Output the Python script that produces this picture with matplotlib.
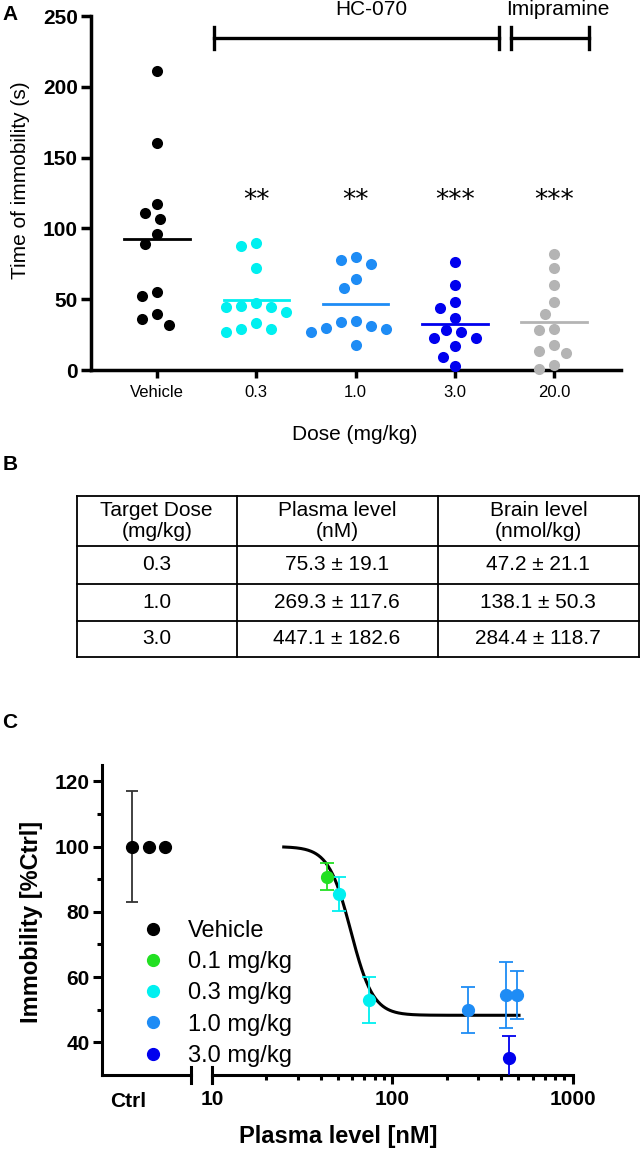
import numpy as np
import matplotlib.pyplot as plt
from matplotlib.lines import Line2D
from matplotlib.ticker import NullFormatter, LogLocator

plt.rcParams['font.family'] = ['Liberation Sans', 'DejaVu Sans']

W, H = 641, 1155

# ---- panel A: forced swim immobility
groups = ['Vehicle', '0.3', '1.0', '3.0', '20.0']
vehicle = [211.5, 160.5, 117, 111, 106.5, 96, 89, 55, 52.5, 39.5, 36, 32]
hc_03 = [90, 87.5, 72, 47, 45.5, 44.5, 44.5, 41, 33.5, 29, 29, 26.5]
hc_10 = [80, 78, 75, 64, 58, 34.5, 34, 31, 30, 29, 27, 18]
hc_30 = [76, 60, 48, 44, 36.5, 28, 27, 22.5, 22.5, 17, 9.5, 2.5]
imip_20 = [82, 72, 60, 48, 39.5, 29, 28, 17.5, 13.5, 12, 3.5, 1]
stars = ['', '**', '**', '***', '***']
colors_a = ['#000000', '#00F0F0', '#1E8CF5', '#0000EE', '#B4B4B4']

# ---- panel B: exposure table
table_header = ['Target Dose\n(mg/kg)', 'Plasma level\n(nM)', 'Brain level\n(nmol/kg)']
table_dose = ['0.3', '1.0', '3.0']
table_plasma = ['75.3 ± 19.1', '269.3 ± 117.6', '447.1 ± 182.6']
table_brain = ['47.2 ± 21.1', '138.1 ± 50.3', '284.4 ± 118.7']

# ---- panel C: immobility vs plasma level
ctrl_x = [1, 2, 3]
ctrl_y = [100, 100, 100]
ctrl_sem = 17
c_labels = ['0.1 mg/kg', '0.3 mg/kg', '1.0 mg/kg', '3.0 mg/kg']
c_plasma = [[43.5], [50.8, 74.3], [264, 430, 493], [444]]
c_immob = [[90.8], [85.5, 53.0], [50.0, 54.5, 54.5], [35.3]]
c_sem = [[4.2], [5.3, 7.0], [7.0, 10.0, 7.4], [6.6]]
c_colors = ['#22E022', '#00F0F0', '#1E8CF5', '#0000EE']
fit_top, fit_bottom, fit_logec50, fit_hill = 100, 48.3, 1.77, 7.0
fit_range = [25, 505]


def frac(x0, y0, x1, y1):
    return [x0 / W, 1 - y1 / H, (x1 - x0) / W, (y1 - y0) / H]


def swarm(ax, vals, xc, diam=14, step=3):
    # simple beeswarm in pixel space
    p0 = ax.transData.transform((0, 0))
    p1 = ax.transData.transform((1, 1))
    sx, sy = p1[0] - p0[0], p1[1] - p0[1]
    cands = [0] + [s * i * step for i in range(1, 40) for s in (-1, 1)]
    placed = []
    xs = []
    for v in vals:
        y = v * sy
        for dx in cands:
            if all((dx - px) ** 2 + (y - py) ** 2 >= diam ** 2 for px, py in placed):
                break
        placed.append((dx, y))
        xs.append(xc + dx / sx)
    return xs


fig = plt.figure(figsize=(W / 100, H / 100), dpi=100)

# ================= A
axA = fig.add_axes(frac(91, 16, 621, 370))
axA.set_xlim(-0.665, 4.675)
axA.set_ylim(0, 250)
for s in ['top', 'right']:
    axA.spines[s].set_visible(False)
for s in ['left', 'bottom']:
    axA.spines[s].set_linewidth(2.5)

data_a = [vehicle, hc_03, hc_10, hc_30, imip_20]
for i, vals in enumerate(data_a):
    xs = swarm(axA, vals, i)
    axA.scatter(xs, vals, s=64, color=colors_a[i], linewidths=0, zorder=3, clip_on=False)
    m = np.mean(vals)
    axA.plot([i - 0.33, i + 0.33], [m, m], color=colors_a[i], lw=2, zorder=4)
    if stars[i]:
        axA.text(i, 119, stars[i], ha='center', va='center', fontsize=19,
                 family='DejaVu Sans')

# brackets
br_y = 234.5
for x0, x1, lab, lx in [(0.574, 3.45, 'HC-070', 2.16), (3.57, 4.35, 'Imipramine', 4.04)]:
    axA.plot([x0, x1], [br_y, br_y], color='k', lw=2.4, clip_on=False)
    for xe in (x0, x1):
        axA.plot([xe, xe], [br_y - 7.8, br_y + 7.8], color='k', lw=2.4, clip_on=False)
    axA.text(lx, 254.6, lab, ha='center', va='center', fontsize=15, clip_on=False)

axA.set_xticks(range(len(groups)))
axA.set_xticklabels(groups, fontsize=12)
axA.tick_params(axis='x', length=6, width=2.5, pad=5)
axA.set_yticks(range(0, 251, 50))
axA.set_yticklabels([str(v) for v in range(0, 251, 50)], fontsize=15, fontweight='bold')
axA.tick_params(axis='y', length=7.5, width=2.5, pad=2)
axA.set_ylabel('Time of immobility (s)', fontsize=15, va='center')
axA.yaxis.set_label_coords((20 - 91) / 530, (370 - 180) / 354)
axA.set_xlabel('Dose (mg/kg)', fontsize=15, va='center')
axA.xaxis.set_label_coords((355 - 91) / 530, (370 - 435) / 354)

# ================= B
col_edges = [77, 236.5, 437.7, 639]
row_edges = [496, 546, 584, 621, 657]
axB = fig.add_axes(frac(77, 496, 639, 657))
axB.set_xlim(77, 639)
axB.set_ylim(657, 496)
axB.axis('off')
for x in col_edges:
    axB.plot([x, x], [row_edges[0], row_edges[-1]], color='k', lw=1.3, clip_on=False)
for y in row_edges:
    axB.plot([col_edges[0], col_edges[-1]], [y, y], color='k', lw=1.3, clip_on=False)
rows = [table_header] + [list(r) for r in zip(table_dose, table_plasma, table_brain)]
for r, row in enumerate(rows):
    yc = (row_edges[r] + row_edges[r + 1]) / 2
    for c, txt in enumerate(row):
        xc = (col_edges[c] + col_edges[c + 1]) / 2
        axB.text(xc, yc, txt, ha='center', va='center', fontsize=15, linespacing=1.15)

# ================= C
axL = fig.add_axes(frac(101.6, 765, 190.6, 1075))
axR = fig.add_axes(frac(212, 765, 572.5, 1075))
for ax in (axL, axR):
    ax.set_ylim(30, 125)
    ax.spines['top'].set_visible(False)
    ax.spines['right'].set_visible(False)
    ax.spines['bottom'].set_linewidth(2.2)
    ax.spines['left'].set_linewidth(2.2)
    ax.patch.set_alpha(0)
axR.spines['left'].set_visible(False)

axL.set_xlim(-0.842, 4.55)
axL.errorbar(ctrl_x[0], ctrl_y[0], yerr=ctrl_sem, fmt='none', ecolor='#333333',
             elinewidth=1.3, capsize=4.5, capthick=1.3)
axL.plot(ctrl_x, ctrl_y, 'o', color='k', ms=8.5, zorder=3)
axL.set_xticks([0.75])
axL.set_xticklabels(['Ctrl'], fontsize=15, fontweight='bold')
axL.tick_params(axis='x', length=0, pad=12)
axL.set_yticks([40, 60, 80, 100, 120])
axL.set_yticks([50, 70, 90, 110], minor=True)
axL.set_yticklabels(['40', '60', '80', '100', '120'], fontsize=15, fontweight='bold')
axL.tick_params(axis='y', which='major', length=6.5, width=2.2, pad=2)
axL.tick_params(axis='y', which='minor', length=3.6, width=2.2)
axL.set_ylabel('Immobility [%Ctrl]', fontsize=17, fontweight='bold', va='center')
axL.yaxis.set_label_coords((32 - 101.6) / 89, (1075 - 922) / 310)

axR.set_xscale('log')
axR.set_xlim(10, 1000)
xx = np.logspace(np.log10(fit_range[0]), np.log10(fit_range[1]), 300)
yy = fit_bottom + (fit_top - fit_bottom) / (1 + 10 ** ((np.log10(xx) - fit_logec50) * fit_hill))
axR.plot(xx, yy, color='k', lw=2.2, zorder=2)
for xs, ys, es, col in zip(c_plasma, c_immob, c_sem, c_colors):
    axR.errorbar(xs, ys, yerr=es, fmt='o', color=col, ms=8.5, elinewidth=1.3,
                 capsize=5, capthick=1.3, zorder=3)
axR.set_yticks([])
axR.set_xticks([10, 100, 1000])
axR.set_xticklabels(['10', '100', '1000'], fontsize=15, fontweight='bold')
axR.xaxis.set_minor_locator(LogLocator(base=10, subs=np.arange(2, 10)))
axR.xaxis.set_minor_formatter(NullFormatter())
axR.tick_params(axis='x', which='major', length=6.5, width=2.2, pad=4)
axR.tick_params(axis='x', which='minor', length=3.6, width=2.2)
axR.set_xlabel('Plasma level [nM]', fontsize=17, fontweight='bold', va='center')
axR.xaxis.set_label_coords((338 - 212) / 360.5, (1075 - 1137) / 310)

# axis break marks
d = 8 / 310
axL.plot([1, 1], [-d, d], transform=axL.transAxes, color='k', lw=2.2, clip_on=False)
axR.plot([0, 0], [-d, d], transform=axR.transAxes, color='k', lw=2.2, clip_on=False)

handles = [Line2D([], [], ls='none', marker='o', color=c, ms=8.5) for c in ['k'] + c_colors]
fig.legend(handles, ['Vehicle'] + c_labels, loc='upper left',
           bbox_to_anchor=(141 / W, 1 - 920 / H), frameon=False, fontsize=17,
           handlelength=1.0, handletextpad=0.98, labelspacing=0.39,
           borderpad=0, borderaxespad=0)

# panel letters
for lab, y in [('A', 15), ('B', 465), ('C', 723)]:
    fig.text(10 / W, 1 - y / H, lab, fontsize=15, fontweight='bold', ha='center', va='center')

fig.savefig('out.png', dpi=100)
